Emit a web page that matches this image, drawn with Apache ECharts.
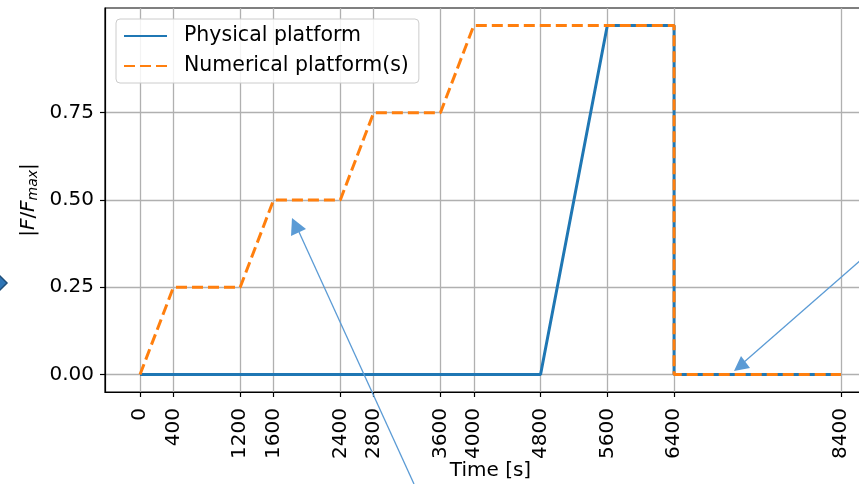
<!DOCTYPE html>
<html>
<head>
<meta charset="utf-8">
<script src="https://cdn.jsdelivr.net/npm/echarts@6/dist/echarts.min.js"></script>
<style>
  html, body { margin: 0; padding: 0; background: #fff; }
  #chart { width: 859px; height: 484px; }
</style>
</head>
<body>
<div id="chart"></div>
<script>
// Load profiles: normalised force vs time
const physicalTime  = [0, 4800, 5600, 6400, 6400, 8400];
const physicalForce = [0, 0, 1, 1, 0, 0];

const numericalTime  = [0, 400, 1200, 1600, 2400, 2800, 3600, 4000, 6400, 6400, 8400];
const numericalForce = [0, 0.25, 0.25, 0.5, 0.5, 0.75, 0.75, 1, 1, 0, 0];

const xTicks = [0, 400, 1200, 1600, 2400, 2800, 3600, 4000, 4800, 5600, 6400, 8400];
const yTicks = [0, 0.25, 0.5, 0.75];

const seriesNames = ['Physical platform', 'Numerical platform(s)'];

const pairs = (xs, ys) => xs.map((x, i) => [x, ys[i]]);

const FONT = 'DejaVu Sans';
const FS = 20;
const chart = echarts.init(document.getElementById('chart'), null, { renderer: 'canvas' });

const arrowColor = '#5b9bd5';

chart.setOption({
  animation: false,
  backgroundColor: '#ffffff',
  textStyle: { fontFamily: FONT, color: '#000' },
  grid: {
    left: 105, top: 8, width: 771, height: 384,
    outerBoundsMode: 'none', containLabel: false,
    show: true, borderColor: '#000', borderWidth: 1.2, backgroundColor: 'transparent'
  },
  legend: {
    left: 116, top: 19, orient: 'vertical',
    itemWidth: 43, itemHeight: 14, itemGap: 8,
    padding: [6, 10, 6, 7],
    backgroundColor: 'rgba(255,255,255,0.85)',
    borderColor: '#cccccc', borderWidth: 1, borderRadius: 4,
    itemStyle: { opacity: 0 },
    textStyle: { fontFamily: FONT, fontSize: 20.5, color: '#000', lineHeight: 22, padding: [0, 0, 0, 12] },
    data: seriesNames
  },
  xAxis: {
    type: 'value', min: -420, max: 8820,
    name: 'Time [s]', nameLocation: 'middle', nameGap: 69, nameMoveOverlap: false,
    nameTextStyle: { fontFamily: FONT, fontSize: FS, color: '#000' },
    axisLine: { show: true, onZero: false, lineStyle: { color: '#000', width: 1.2 } },
    axisTick: { show: true, length: 5, customValues: xTicks, lineStyle: { color: '#000', width: 1.2 } },
    axisLabel: {
      customValues: xTicks, rotate: 90, margin: 16,
      fontFamily: FONT, fontSize: FS, color: '#000',
      formatter: v => String(v)
    },
    splitLine: { show: true, lineStyle: { color: '#b0b0b0', width: 1.3 } }
  },
  yAxis: {
    type: 'value', min: -0.05, max: 1.05,
    name: '|{it|F}/{it|F}{sub|max}|', nameLocation: 'middle', nameGap: 65, nameRotate: 90,
    nameMoveOverlap: false,
    nameTextStyle: {
      fontFamily: FONT, fontSize: FS, color: '#000',
      rich: {
        it: { fontFamily: FONT, fontSize: FS, fontStyle: 'italic', color: '#000' },
        sub: { fontFamily: FONT, fontSize: 14, fontStyle: 'italic', color: '#000', verticalAlign: 'bottom', padding: [9, 0, 0, 0] }
      }
    },
    axisLine: { show: true, onZero: false, lineStyle: { color: '#000', width: 1.2 } },
    axisTick: { show: true, length: 5, customValues: yTicks, lineStyle: { color: '#000', width: 1.2 } },
    axisLabel: {
      customValues: yTicks, margin: 11,
      fontFamily: FONT, fontSize: FS, color: '#000',
      formatter: v => v.toFixed(2)
    },
    splitLine: { show: true, lineStyle: { color: '#b0b0b0', width: 1.3 } }
  },
  series: [
    {
      name: seriesNames[0], type: 'line', symbol: 'none', z: 3,
      data: pairs(physicalTime, physicalForce),
      lineStyle: { color: '#1f77b4', width: 3 },
      itemStyle: { color: '#1f77b4' }
    },
    {
      name: seriesNames[1], type: 'line', symbol: 'none', z: 4,
      data: pairs(numericalTime, numericalForce),
      lineStyle: { color: '#ff7f0e', width: 3, type: [11, 5] },
      itemStyle: { color: '#ff7f0e' }
    }
  ],
  graphic: [
    // callout arrows overlaid on the figure
    { type: 'line', z: 100, shape: { x1: 414, y1: 484, x2: 299, y2: 232 }, style: { stroke: arrowColor, lineWidth: 1.3 } },
    { type: 'polygon', z: 100, shape: { points: [[292, 218], [291, 236], [306, 229]] }, style: { fill: arrowColor } },
    { type: 'line', z: 100, shape: { x1: 862, y1: 259, x2: 743, y2: 363 }, style: { stroke: arrowColor, lineWidth: 1.3 } },
    { type: 'polygon', z: 100, shape: { points: [[734, 371], [750, 368], [741, 356]] }, style: { fill: arrowColor } },
    { type: 'polygon', z: 100, shape: { points: [[-7, 283], [0, 276], [7, 283], [0, 290]] }, style: { fill: '#2e75b6', stroke: '#1f4e79', lineWidth: 1.5 } }
  ]
});
</script>
</body>
</html>
